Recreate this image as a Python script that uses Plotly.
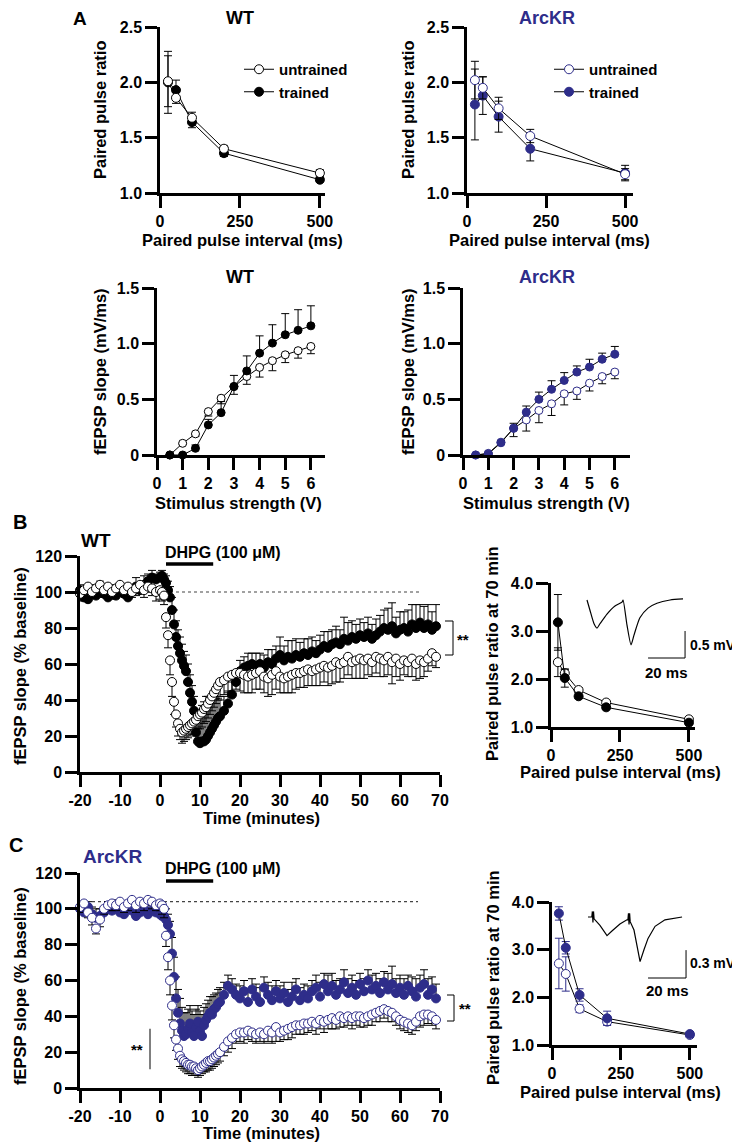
import plotly.graph_objects as go

W, H = 740, 1144
OFF = 8  # the page body adds an 8 px margin; positions below are measured on the reference
FONT = "Liberation Sans"
NAVY = "#2e2d8a"

# ---------------- data ----------------
# A: paired pulse ratio vs interval
PPI = [25, 50, 100, 200, 500]
wt_ppr_un = [2.01, 1.86, 1.68, 1.40, 1.18]
wt_ppr_un_err = [0.23, 0.05, 0.05, 0.03, 0.03]
wt_ppr_tr = [2.00, 1.93, 1.64, 1.36, 1.12]
wt_ppr_tr_err = [0.28, 0.09, 0.05, 0.03, 0.02]
arc_ppr_un = [2.02, 1.95, 1.765, 1.515, 1.17]
arc_ppr_un_err = [0.17, 0.10, 0.10, 0.06, 0.05]
arc_ppr_tr = [1.80, 1.88, 1.69, 1.40, 1.18]
arc_ppr_tr_err = [0.32, 0.17, 0.14, 0.11, 0.07]

# A: input-output
VOLT = [0.5, 1, 1.5, 2, 2.5, 3, 3.5, 4, 4.5, 5, 5.5, 6]
wt_io_un = [0, 0.105, 0.19, 0.39, 0.51, 0.615, 0.705, 0.787, 0.847, 0.90, 0.937, 0.975]
wt_io_un_err = [0, 0.01, 0.02, 0.04, 0.05, 0.07, 0.07, 0.087, 0.09, 0.07, 0.067, 0.065]
wt_io_tr = [0, 0, 0.06, 0.27, 0.38, 0.615, 0.755, 0.915, 1.005, 1.08, 1.12, 1.16]
wt_io_tr_err = [0, 0.01, 0.03, 0.05, 0.10, 0.10, 0.135, 0.155, 0.165, 0.19, 0.185, 0.18]
arc_io_un = [0, 0.015, 0.115, 0.24, 0.315, 0.40, 0.46, 0.55, 0.575, 0.645, 0.705, 0.745]
arc_io_un_err = [0, 0.01, 0.02, 0.075, 0.10, 0.11, 0.105, 0.10, 0.075, 0.07, 0.065, 0.06]
arc_io_tr = [0, 0.01, 0.11, 0.24, 0.385, 0.50, 0.59, 0.67, 0.745, 0.79, 0.86, 0.905]
arc_io_tr_err = [0, 0.01, 0.02, 0.045, 0.055, 0.065, 0.077, 0.07, 0.055, 0.07, 0.055, 0.07]

# B / C: time course (% baseline)
T_MIN = [
    -20, -19, -18, -17, -16, -15, -14, -13, -12, -11,
    -10, -9, -8, -7, -6, -5, -4, -3, -2, -1,
    0, 0.5, 1, 1.5, 2, 2.5, 3, 3.5, 4, 4.5,
    5, 5.5, 6, 6.5, 7, 7.5, 8, 8.5, 9, 9.5,
    10, 10.5, 11, 11.5, 12, 12.5, 13, 13.5, 14, 14.5,
    15, 16, 17, 18, 19, 20, 21, 22, 23, 24,
    25, 26, 27, 28, 29, 30, 31, 32, 33, 34,
    35, 36, 37, 38, 39, 40, 41, 42, 43, 44,
    45, 46, 47, 48, 49, 50, 51, 52, 53, 54,
    55, 56, 57, 58, 59, 60, 61, 62, 63, 64,
    65, 66, 67, 68, 69]

wt_tr = [
    101, 97, 96, 100, 98, 102, 99, 97, 100, 98,
    101, 99, 97, 100, 103, 101, 104, 106, 108, 107,
    108, 109, 107, 105, 101, 97, 90, 82, 75, 70,
    66, 62, 59, 56, 50, 44, 39, 34, 22, 17,
    16, 17, 17, 18, 20, 22, 24, 26, 28, 30,
    31, 34, 38, 43, 50, 56, 58, 59, 60, 59,
    60, 58, 61, 60, 63, 65, 62, 64, 63, 65,
    64, 66, 65, 67, 66, 68, 70, 69, 71, 72,
    71, 74, 73, 75, 74, 76, 75, 77, 74, 76,
    78, 80, 79, 81, 77, 79, 80, 78, 82, 80,
    83, 80, 82, 79, 81]
wt_tr_err = [
    3, 4, 3, 4, 3, 4, 3, 5, 4, 3,
    4, 3, 4, 3, 5, 4, 5, 4, 4, 3,
    3, 3, 3, 4, 5, 6, 7, 8, 9, 9,
    9, 9, 8, 9, 10, 10, 9, 8, 12, 15,
    18, 20, 22, 24, 22, 20, 18, 16, 13, 11,
    9, 8, 7, 7, 6, 6, 6, 7, 6, 7,
    6, 7, 7, 8, 7, 10, 8, 9, 10, 9,
    8, 8, 9, 8, 7, 8, 8, 9, 8, 9,
    8, 12, 10, 9, 8, 9, 8, 9, 8, 9,
    9, 10, 12, 13, 9, 10, 9, 12, 11, 13,
    10, 12, 11, 10, 12]
wt_un = [
    99, 101, 103, 100, 102, 104, 101, 103, 100, 102,
    104, 101, 103, 100, 102, 104, 101, 103, 102, 100,
    101, 100, 98, 86, 76, 62, 50, 39, 32, 27,
    24, 22, 23, 24, 25, 26, 27, 28, 29, 31,
    32, 33, 35, 36, 38, 40, 42, 44, 46, 48,
    50, 51, 53, 54, 55, 55, 54, 53, 54, 55,
    56, 53, 52, 54, 56, 53, 52, 53, 54, 55,
    55, 56, 57, 56, 57, 58, 59, 58, 59, 61,
    60, 61, 64, 61, 62, 63, 62, 63, 61, 64,
    63, 62, 64, 61, 63, 60, 62, 61, 63, 60,
    62, 61, 63, 66, 64]
wt_un_err = [
    4, 3, 4, 3, 4, 3, 4, 3, 4, 3,
    4, 3, 4, 3, 4, 3, 4, 3, 4, 5,
    5, 5, 5, 6, 7, 8, 8, 7, 7, 7,
    6, 6, 6, 6, 6, 6, 6, 7, 7, 7,
    8, 8, 8, 8, 8, 8, 8, 8, 8, 8,
    8, 8, 9, 9, 9, 10, 10, 9, 10, 9,
    10, 9, 10, 11, 10, 9, 8, 9, 10, 9,
    8, 9, 9, 8, 9, 10, 9, 10, 10, 11,
    10, 9, 10, 9, 10, 11, 10, 9, 8, 9,
    10, 9, 10, 12, 10, 9, 8, 8, 10, 9,
    10, 8, 7, 7, 6]

arc_tr = [
    100, 98, 101, 97, 95, 96, 98, 100, 99, 101,
    98, 97, 100, 99, 96, 98, 100, 97, 99, 98,
    97, 96, 96, 94, 91, 86, 75, 62, 50, 42,
    36, 32, 29, 30, 33, 36, 31, 29, 34, 37,
    32, 29, 35, 38, 40, 42, 41, 44, 45, 47,
    48, 52, 57, 55, 52, 50, 54, 48, 55, 51,
    48, 56, 52, 49, 54, 50, 53, 48, 51, 55,
    49, 52, 50, 54, 56, 51, 58, 54, 57, 52,
    55, 59, 53, 56, 52, 58, 54, 60, 55, 57,
    53, 59, 55, 58, 53, 56, 52, 57, 54, 51,
    56, 58, 52, 55, 50]
arc_tr_err = [
    3, 4, 3, 4, 5, 4, 3, 4, 3, 4,
    3, 4, 3, 4, 3, 4, 3, 4, 3, 5,
    5, 6, 5, 6, 6, 7, 9, 11, 12, 13,
    14, 13, 13, 12, 11, 10, 12, 12, 10, 9,
    11, 12, 10, 9, 9, 9, 10, 8, 8, 8,
    8, 7, 6, 6, 6, 7, 6, 7, 6, 7,
    8, 6, 7, 8, 6, 7, 6, 7, 8, 6,
    7, 6, 7, 6, 7, 8, 6, 9, 7, 8,
    6, 7, 8, 7, 8, 6, 7, 6, 8, 7,
    8, 6, 9, 10, 8, 7, 9, 6, 8, 10,
    7, 8, 9, 7, 8]
arc_un = [
    101, 103, 98, 95, 89, 94, 100, 102, 103, 102,
    104, 101, 103, 105, 102, 104, 103, 105, 104, 102,
    103, 102, 100, 85, 73, 60, 46, 35, 27, 22,
    18, 16, 15, 14, 13, 13, 12, 12, 11, 10,
    11, 12, 13, 14, 15, 15, 16, 17, 18, 19,
    20, 23, 26, 28, 30, 31, 31, 32, 31, 30,
    31, 30, 32, 31, 34, 31, 32, 33, 34, 35,
    35, 36, 36, 37, 36, 38, 37, 38, 39, 38,
    40, 39, 40, 39, 40, 40, 39, 40, 41, 42,
    43, 44, 43, 42, 40, 38, 37, 36, 35, 37,
    40, 41, 41, 40, 38]
arc_un_err = [
    3, 4, 3, 4, 3, 4, 3, 3, 4, 3,
    4, 3, 4, 3, 4, 3, 4, 3, 4, 3,
    4, 5, 5, 6, 7, 8, 8, 7, 6, 6,
    6, 5, 5, 5, 5, 5, 5, 5, 4, 4,
    4, 4, 4, 5, 5, 5, 5, 5, 5, 5,
    5, 5, 6, 6, 5, 5, 6, 5, 5, 5,
    5, 5, 6, 6, 8, 5, 5, 6, 6, 5,
    5, 6, 5, 5, 6, 5, 6, 5, 6, 5,
    6, 5, 5, 6, 5, 6, 5, 5, 6, 5,
    6, 5, 6, 5, 5, 5, 5, 5, 5, 5,
    6, 6, 5, 5, 5]

# paired pulse ratio at 70 min
wt70_un = [2.35, 2.12, 1.77, 1.51, 1.16]
wt70_un_err = [0.30, 0.08, 0.05, 0.05, 0.04]
wt70_tr = [3.18, 2.02, 1.64, 1.41, 1.09]
wt70_tr_err = [0.58, 0.19, 0.05, 0.05, 0.04]
arc70_un = [2.71, 2.49, 1.76, 1.49, 1.21]
arc70_un_err = [0.53, 0.36, 0.08, 0.06, 0.04]
arc70_tr = [3.76, 3.04, 2.05, 1.56, 1.23]
arc70_tr_err = [0.14, 0.13, 0.13, 0.15, 0.05]

# example fEPSP traces (ms, mV)
wt_trace_ms = [0, 1.6, 3.8, 5.4, 7.0, 10.8, 15.1, 18.9, 19.5, 21.6, 23.8, 25.4, 28.6, 33.0, 37.8, 44.9, 51.9]
wt_trace_mv = [0, -0.19, -0.44, -0.52, -0.44, -0.26, -0.11, -0.04, 0.0, -0.46, -0.83, -0.65, -0.33, -0.15, -0.06, 0.0, 0.02]
arc_trace_ms = [0, 2.0, 2.3, 2.6, 2.9, 3.2, 6.3, 10.0, 12.6, 16.8, 20.5, 21.0, 21.3, 21.6, 21.9, 22.2,
                24.2, 27.4, 29.5, 31.6, 35.3, 40.5, 49.5]
arc_trace_mv = [0, 0, 0.06, -0.06, 0.06, -0.02, -0.09, -0.20, -0.15, -0.075, -0.03, -0.03, 0.04, -0.08, 0.04, -0.05,
                -0.14, -0.48, -0.35, -0.23, -0.10, -0.03, 0.0]
SCALE_MS = 20
WT_SCALE_MV = 0.5
ARC_SCALE_MV = 0.3


# ---------------- helpers ----------------
def px(x):
    return (x - OFF) / W


def py(y):
    return 1 - (y - OFF) / H


def xdom(a, b):
    return [px(a), px(b)]


def ydom(top, bottom):
    return [py(bottom), py(top)]


def err(vals, mode):
    zeros = [0] * len(vals)
    if mode == "up":
        return dict(type="data", array=vals, arrayminus=zeros, symmetric=False)
    if mode == "down":
        return dict(type="data", array=zeros, arrayminus=vals, symmetric=False)
    return dict(type="data", array=vals, symmetric=True)


fig = go.Figure()


def series(x, y, e, ax, filled, color, mode="both", lines=True, size=9, name=None,
           legend=None, rank=None, ecolor="black"):
    marker = dict(size=size, symbol="circle",
                  color=color if filled else "white",
                  line=dict(color=color, width=1))
    eb = err(e, mode)
    eb.update(color=ecolor, thickness=1, width=4)
    fig.add_trace(go.Scatter(
        x=x, y=y, mode="lines+markers" if lines else "markers",
        line=dict(color="black", width=1), marker=marker, error_y=eb,
        xaxis="x" + ax, yaxis="y" + ax, cliponaxis=False,
        name=name, showlegend=legend is not None,
        legend=legend, legendgroup=(name or "") + (legend or ""),
        legendrank=rank if rank else 1000, hoverinfo="skip"))


# A: PPR
series(PPI, wt_ppr_tr, wt_ppr_tr_err, "1", True, "black", name="trained", legend="legend", rank=2)
series(PPI, wt_ppr_un, wt_ppr_un_err, "1", False, "black", name="untrained", legend="legend", rank=1)
series(PPI, arc_ppr_tr, arc_ppr_tr_err, "2", True, NAVY, name="trained", legend="legend2", rank=2)
series(PPI, arc_ppr_un, arc_ppr_un_err, "2", False, NAVY, name="untrained", legend="legend2", rank=1)

# A: input-output
series(VOLT, wt_io_un, wt_io_un_err, "3", False, "black", mode="down", size=8)
series(VOLT, wt_io_tr, wt_io_tr_err, "3", True, "black", mode="up", size=8)
series(VOLT, arc_io_un, arc_io_un_err, "4", False, NAVY, mode="down", size=8)
series(VOLT, arc_io_tr, arc_io_tr_err, "4", True, NAVY, mode="up", size=8)

# B / C: time course
series(T_MIN, wt_tr, wt_tr_err, "5", True, "black", mode="up", lines=False)
series(T_MIN, wt_un, wt_un_err, "5", False, "black", mode="down", lines=False)
series(T_MIN, arc_tr, arc_tr_err, "7", True, NAVY, mode="up", lines=False)
series(T_MIN, arc_un, arc_un_err, "7", False, NAVY, mode="down", lines=False)

# B / C: PPR at 70 min
series(PPI, wt70_un, wt70_un_err, "6", False, "black")
series(PPI, wt70_tr, wt70_tr_err, "6", True, "black")
series(PPI, arc70_un, arc70_un_err, "8", False, NAVY, ecolor=NAVY)
series(PPI, arc70_tr, arc70_tr_err, "8", True, NAVY, ecolor=NAVY)

# example traces
fig.add_trace(go.Scatter(x=wt_trace_ms, y=wt_trace_mv, mode="lines", xaxis="x9", yaxis="y9",
                         line=dict(color="black", width=1.2, shape="spline", smoothing=0.6),
                         showlegend=False, hoverinfo="skip"))
fig.add_trace(go.Scatter(x=arc_trace_ms, y=arc_trace_mv, mode="lines", xaxis="x10", yaxis="y10",
                         line=dict(color="black", width=1.2), showlegend=False, hoverinfo="skip"))

# ---------------- axes ----------------
TICKFONT = dict(size=16, family=FONT, color="black", weight="bold")


def axis(dom, anchor, rng, tickvals, ticktext=None, **kw):
    d = dict(domain=dom, anchor=anchor, range=rng, showline=True, linecolor="black",
             linewidth=2.5, ticks="outside", ticklen=12, tickwidth=2.5, tickcolor="black",
             showgrid=False, zeroline=False, tickfont=TICKFONT, tickvals=tickvals,
             ticktext=ticktext if ticktext else [str(v) for v in tickvals], automargin=False)
    d.update(kw)
    return d


ppr_ticks = dict(tickvals=[1.0, 1.5, 2.0, 2.5], ticktext=["1.0", "1.5", "2.0", "2.5"])
io_ticks = dict(tickvals=[0, 0.5, 1.0, 1.5], ticktext=["0", "0.5", "1.0", "1.5"])
time_y = list(range(0, 121, 20))
time_x = list(range(-20, 71, 10))
p70_ticks = dict(tickvals=[1, 2, 3, 4], ticktext=["1.0", "2.0", "3.0", "4.0"])

layout_axes = dict(
    xaxis=axis(xdom(160, 325), "y", [0, 516], [0, 250, 500]),
    yaxis=axis(ydom(27, 193), "x", [1.0, 2.5], **ppr_ticks),
    xaxis2=axis(xdom(467, 633), "y2", [0, 525], [0, 250, 500]),
    yaxis2=axis(ydom(27, 193), "x2", [1.0, 2.5], **ppr_ticks),
    xaxis3=axis(xdom(157, 325), "y3", [0, 6.55], [0, 1, 2, 3, 4, 5, 6]),
    yaxis3=axis(ydom(288, 455), "x3", [0, 1.5], **io_ticks),
    xaxis4=axis(xdom(463, 630), "y4", [0, 6.6], [0, 1, 2, 3, 4, 5, 6]),
    yaxis4=axis(ydom(288, 455), "x4", [0, 1.5], **io_ticks),
    xaxis5=axis(xdom(80, 440), "y5", [-20, 70], time_x),
    yaxis5=axis(ydom(556, 772), "x5", [0, 120], time_y),
    xaxis6=axis(xdom(551, 695), "y6", [0, 522], [0, 250, 500]),
    yaxis6=axis(ydom(583, 727), "x6", [1, 4], **p70_ticks),
    xaxis7=axis(xdom(80, 440), "y7", [-20, 70], time_x),
    yaxis7=axis(ydom(873, 1088), "x7", [0, 120], time_y),
    xaxis8=axis(xdom(552, 697), "y8", [0, 526], [0, 250, 500]),
    yaxis8=axis(ydom(902, 1045), "x8", [1, 4], **p70_ticks),
)
# inset axes for traces: pixel scale 1.85 px/ms, 54 px/mV (WT); 1.9 px/ms, 93 px/mV (ArcKR)
layout_axes["xaxis9"] = dict(domain=xdom(585, 690), anchor="y9", visible=False,
                             range=[(585 - 587) / 1.85, (690 - 587) / 1.85])
layout_axes["yaxis9"] = dict(domain=ydom(595, 662), anchor="x9", visible=False,
                             range=[-(662 - 600) / 54, (600 - 595) / 54])
layout_axes["xaxis10"] = dict(domain=xdom(585, 692), anchor="y10", visible=False,
                              range=[(585 - 588) / 1.9, (692 - 588) / 1.9])
layout_axes["yaxis10"] = dict(domain=ydom(908, 982), anchor="x10", visible=False,
                              range=[-(982 - 917) / 93, (917 - 908) / 93])

# ---------------- shapes ----------------
shapes = []
# baseline dotted lines
shapes.append(dict(type="line", xref="x5", yref="y5", x0=-20, x1=65.5, y0=100, y1=100,
                   line=dict(color="#444", width=1.2, dash="dot"), layer="below"))
shapes.append(dict(type="line", xref="x7", yref="y7", x0=-20, x1=64.5, y0=104, y1=104,
                   line=dict(color="#444", width=1.2, dash="dot"), layer="below"))
# DHPG application bars
for ax in ("5", "7"):
    shapes.append(dict(type="line", xref="x" + ax, yref="y" + ax, x0=1.5, x1=13.3, y0=115.5, y1=115.5,
                       line=dict(color="black", width=3.5)))
# significance brackets (paper coords)
for (x0, x1, y0, y1) in [(445, 453, 621, 655), (447, 454, 995, 1021)]:
    shapes.append(dict(type="path", xref="paper", yref="paper",
                       path=f"M{px(x0)},{py(y0)} L{px(x1)},{py(y0)} L{px(x1)},{py(y1)} L{px(x0)},{py(y1)}",
                       line=dict(color="black", width=1)))
shapes.append(dict(type="line", xref="x7", yref="y7", x0=-2.5, x1=-2.5, y0=10.5, y1=33,
                   line=dict(color="#555", width=1.5)))
# scale bars
for ax, corner_ms, corner_mv, mv in [("9", 53, -1.074, WT_SCALE_MV), ("10", 51.6, -0.656, ARC_SCALE_MV)]:
    shapes.append(dict(type="path", xref="x" + ax, yref="y" + ax,
                       path=f"M{corner_ms - SCALE_MS},{corner_mv} L{corner_ms},{corner_mv} L{corner_ms},{corner_mv + mv}",
                       line=dict(color="black", width=1)))

# ---------------- text ----------------
annotations = []


def text(x, y, s, size=16.5, color="black", xanchor="center", angle=0, bold=True):
    annotations.append(dict(x=px(x), y=py(y), xref="paper", yref="paper", text=s, showarrow=False,
                            xanchor=xanchor, yanchor="middle", textangle=angle,
                            font=dict(size=size, family=FONT, color=color,
                                      weight="bold" if bold else "normal")))


text(80, 19, "A", size=19)
text(240, 18, "WT", size=18)
text(547, 18, "ArcKR", size=18, color=NAVY)
text(100, 110, "Paired pulse ratio", angle=-90)
text(408, 110, "Paired pulse ratio", angle=-90)
text(242, 240, "Paired pulse interval (ms)")
text(549, 240, "Paired pulse interval (ms)")
text(240, 277, "WT", size=18)
text(547, 277, "ArcKR", size=18, color=NAVY)
text(100, 372, "fEPSP slope (mV/ms)", angle=-90)
text(408, 372, "fEPSP slope (mV/ms)", angle=-90)
text(238, 503, "Stimulus strength (V)")
text(546, 503, "Stimulus strength (V)")

text(20, 522, "B", size=20)
text(96, 540, "WT", size=19)
text(163, 552, "DHPG (100 μM)", size=16, xanchor="left")
text(20, 666, "fEPSP slope (% baseline)", angle=-90)
text(261, 818, "Time (minutes)")
text(463, 640, "**", size=15)
text(492, 654, "Paired pulse ratio at 70 min", angle=-90)
text(620, 772, "Paired pulse interval (ms)")
text(688, 645, "0.5 mV", size=14, xanchor="left")
text(666, 672, "20 ms", size=15)

text(16, 845, "C", size=20)
text(112, 857, "ArcKR", size=19, color=NAVY)
text(163, 868, "DHPG (100 μM)", size=16, xanchor="left")
text(20, 986, "fEPSP slope (% baseline)", angle=-90)
text(261, 1133, "Time (minutes)")
text(465, 1008, "**", size=15)
text(137, 1049, "**", size=15)
text(493, 978, "Paired pulse ratio at 70 min", angle=-90)
text(620, 1092, "Paired pulse interval (ms)")
text(688, 963, "0.3 mV", size=14, xanchor="left")
text(667, 990, "20 ms", size=15)

legend_style = dict(xanchor="left", yanchor="top", bgcolor="rgba(0,0,0,0)", borderwidth=0,
                    font=dict(size=15, family=FONT, color="black", weight="bold"),
                    tracegroupgap=4, traceorder="normal")

fig.update_layout(
    width=W, height=H, autosize=False,
    margin=dict(l=0, r=0, t=0, b=0, pad=0, autoexpand=False),
    paper_bgcolor="white", plot_bgcolor="white",
    font=dict(family=FONT, color="black"),
    shapes=shapes, annotations=annotations,
    legend=dict(x=px(239), y=py(53), **legend_style),
    legend2=dict(x=px(549), y=py(53), **legend_style),
    **layout_axes,
)

fig.write_html("out.html")
